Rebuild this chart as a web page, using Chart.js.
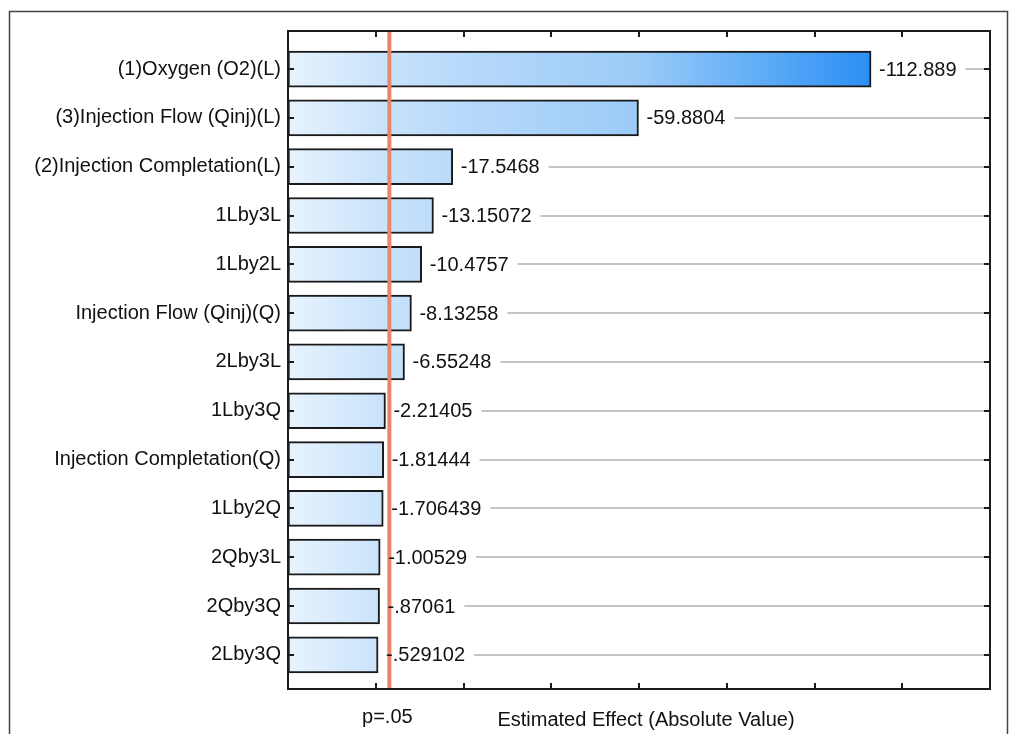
<!DOCTYPE html>
<html lang="en">
<head>
  <meta charset="UTF-8" />
  <title>Pareto Chart of Standardized Effects</title>
  <script src="https://cdn.jsdelivr.net/npm/chart.js"></script>
  <style>
    html, body { margin: 0; padding: 0; background: #fff; }
    #wrap { width: 1010px; height: 734px; }
  </style>
</head>
<body>
  <div id="wrap"><canvas id="pareto"></canvas></div>

  <script>
    // effect names, top to bottom
    const factors = [
      '(1)Oxygen (O2)(L)',
      '(3)Injection Flow (Qinj)(L)',
      '(2)Injection Completation(L)',
      '1Lby3L',
      '1Lby2L',
      'Injection Flow (Qinj)(Q)',
      '2Lby3L',
      '1Lby3Q',
      'Injection Completation(Q)',
      '1Lby2Q',
      '2Qby3L',
      '2Qby3Q',
      '2Lby3Q'
    ];
    // absolute estimated effects
    const effects = [112.889, 59.8804, 17.5468, 13.15072, 10.4757, 8.13258, 6.55248,
                     2.21405, 1.81444, 1.706439, 1.00529, 0.87061, 0.529102];
    // printed next to each bar
    const effectLabels = ['-112.889', '-59.8804', '-17.5468', '-13.15072', '-10.4757', '-8.13258',
                          '-6.55248', '-2.21405', '-1.81444', '-1.706439', '-1.00529', '-.87061', '-.529102'];
    const xTicks = [0, 20, 40, 60, 80, 100, 120];
    const xMin = -20, xMax = 140;
    const pValue = 3.1;          // p=.05 reference line
    const pLabel = 'p=.05';
    const xTitle = 'Estimated Effect (Absolute Value)';

    const FONT = '20px "Liberation Sans", Arial, sans-serif';
    const LABEL_GAP = 8;

    function barFill(context) {
      const chart = context.chart;
      if (!chart.chartArea) return '#a3cff9';
      const x = chart.scales.x;
      const g = chart.ctx.createLinearGradient(x.getPixelForValue(xMin), 0,
                                              x.getPixelForValue(Math.max(...effects)), 0);
      g.addColorStop(0, '#e8f3fe');
      g.addColorStop(0.15, '#cbe4fb');
      g.addColorStop(0.3, '#b7d9fa');
      g.addColorStop(0.6, '#9ccbf8');
      g.addColorStop(0.8, '#63aef6');
      g.addColorStop(1, '#2a8ff5');
      return g;
    }

    const decor = {
      id: 'decor',
      beforeDatasetsDraw(chart) {
        const { ctx, chartArea: a, scales: { x, y } } = chart;
        ctx.save();
        ctx.font = FONT;
        ctx.strokeStyle = '#c4c4c4';
        ctx.lineWidth = 2;
        effects.forEach((v, i) => {
          const yy = Math.round(y.getPixelForValue(i));
          const start = x.getPixelForValue(v) + LABEL_GAP + ctx.measureText(effectLabels[i]).width + 9;
          ctx.beginPath();
          ctx.moveTo(start, yy);
          ctx.lineTo(a.right, yy);
          ctx.stroke();
        });
        ctx.restore();
      },
      afterDatasetsDraw(chart) {
        const { ctx, chartArea: a, scales: { x, y } } = chart;
        ctx.save();

        // p=.05 line
        const px = x.getPixelForValue(pValue);
        ctx.strokeStyle = '#e8866c';
        ctx.lineWidth = 4;
        ctx.beginPath();
        ctx.moveTo(px, a.top);
        ctx.lineTo(px, a.bottom);
        ctx.stroke();

        // value labels
        ctx.font = FONT;
        ctx.fillStyle = '#111';
        ctx.textBaseline = 'middle';
        ctx.textAlign = 'left';
        effects.forEach((v, i) => {
          ctx.fillText(effectLabels[i], x.getPixelForValue(v) + LABEL_GAP, y.getPixelForValue(i) + 1);
        });

        // plot frame and inner ticks
        ctx.strokeStyle = '#1c1c1c';
        ctx.lineWidth = 2;
        ctx.strokeRect(a.left, a.top, a.right - a.left, a.bottom - a.top);
        ctx.beginPath();
        xTicks.forEach(t => {
          const tx = Math.round(x.getPixelForValue(t));
          ctx.moveTo(tx, a.bottom); ctx.lineTo(tx, a.bottom - 6);
          ctx.moveTo(tx, a.top); ctx.lineTo(tx, a.top + 6);
        });
        factors.forEach((f, i) => {
          const ty = Math.round(y.getPixelForValue(i));
          ctx.moveTo(a.left, ty); ctx.lineTo(a.left + 6, ty);
          ctx.moveTo(a.right, ty); ctx.lineTo(a.right - 6, ty);
        });
        ctx.stroke();

        // texts under the axis
        ctx.fillStyle = '#111';
        ctx.textAlign = 'center';
        ctx.fillText(pLabel, px - 2, 717);
        ctx.fillText(xTitle, (a.left + a.right) / 2 + 7, 720);

        // outer frame
        ctx.strokeStyle = '#444';
        ctx.lineWidth = 1.5;
        ctx.strokeRect(9.5, 11.5, 998, 800);
        ctx.restore();
      }
    };

    new Chart(document.getElementById('pareto'), {
      type: 'bar',
      data: {
        datasets: [{
          data: effects.map((v, i) => ({ y: i, x: [xMin, v] })),
          backgroundColor: barFill,
          borderColor: '#1a1a1a',
          borderWidth: 2,
          borderSkipped: false,
          barThickness: 36
        }]
      },
      options: {
        indexAxis: 'y',
        responsive: true,
        maintainAspectRatio: false,
        animation: false,
        layout: { padding: { top: 31, right: 20, bottom: 0, left: 0 } },
        plugins: {
          legend: { display: false },
          tooltip: { enabled: false }
        },
        scales: {
          x: {
            type: 'linear',
            min: xMin,
            max: xMax,
            grid: { display: false, drawTicks: false },
            border: { display: false },
            ticks: { display: false },
            afterFit(scale) { scale.height = 45; }
          },
          y: {
            type: 'linear',
            reverse: true,
            offset: false,
            min: -0.78,
            max: 12.7,
            grid: { display: false, drawTicks: false, offset: false },
            border: { display: false },
            afterBuildTicks(scale) { scale.ticks = factors.map((f, i) => ({ value: i })); },
            afterFit(scale) { scale.width = 288; },
            ticks: {
              autoSkip: false,
              padding: 7,
              color: '#111',
              font: { family: '"Liberation Sans", Arial, sans-serif', size: 20 },
              callback: (v) => factors[v]
            }
          }
        }
      },
      plugins: [decor]
    });
  </script>
</body>
</html>
